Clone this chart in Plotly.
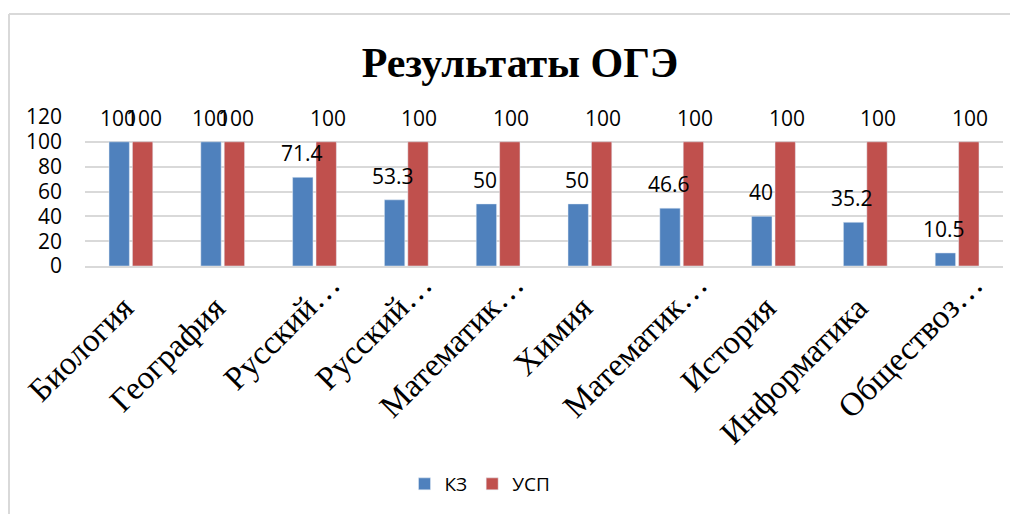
import plotly.graph_objects as go

# Data
subjects = ['Биология', 'География', 'Русский…', 'Русский…', 'Математик…',
            'Химия', 'Математик…', 'История', 'Информатика', 'Обществоз…']
kz = [100, 100, 71.4, 53.3, 50, 50, 46.6, 40, 35.2, 10.5]
usp = [100, 100, 100, 100, 100, 100, 100, 100, 100, 100]

# Duplicate labels need distinct category keys
cats = list(range(len(subjects)))
# Excel draws the untruncated names a bit lower than the "…" ones
tick_text = [s if s.endswith('…') else s + '\u00a0' * 4 for s in subjects]

W, H = 1018, 514
OFF = 8  # page body margin of the browser
ML, MT = 85 - OFF, 117 - OFF
pw, ph = 918, 149
MR, MB = W - ML - pw, H - MT - ph

fig = go.Figure()
fig.add_trace(go.Bar(x=cats, y=kz, name='КЗ', marker_color='#4F81BD'))
fig.add_trace(go.Bar(x=cats, y=usp, name='УСП', marker_color='#C0504D'))

# data labels, placed above each bar like Excel does
label_font = dict(family='Open Sans', size=21, color='#000000')
for xs, vals in ((-13, kz), (13, usp)):
    for c, v in zip(cats, vals):
        fig.add_annotation(x=c, y=v, text=f'{v:g}', showarrow=False,
                           xshift=xs, yshift=24, font=label_font)


# screen pixel -> paper coordinates
def px_x(p):
    return (p - OFF - ML) / pw


def px_y(p):
    return (H - MB - (p - OFF)) / ph


border = dict(color='#d9d9d9', width=2)
fig.add_shape(type='line', xref='paper', yref='paper',
              x0=px_x(9), x1=px_x(W + OFF), y0=px_y(14), y1=px_y(14), line=border)
fig.add_shape(type='line', xref='paper', yref='paper',
              x0=px_x(9), x1=px_x(9), y0=px_y(14), y1=px_y(H + OFF), line=border)

fig.update_layout(
    width=W, height=H,
    margin=dict(l=ML, r=MR, t=MT, b=MB, autoexpand=False),
    plot_bgcolor='white', paper_bgcolor='white',
    barmode='group', bargap=0.49, bargroupgap=0.13,
    title=dict(text='<b>Результаты ОГЭ</b>', x=512 / W, xanchor='center',
               y=1 - 54 / H, yanchor='middle',
               font=dict(family='Liberation Serif', size=42, color='#000000')),
    legend=dict(orientation='h', x=px_x(480), xanchor='center',
                y=px_y(484), yanchor='middle', itemwidth=30,
                font=dict(family='Open Sans', size=19, color='#000000')),
    xaxis=dict(tickmode='array', tickvals=cats, ticktext=tick_text,
               tickangle=-45, ticklabelstandoff=-16, ticklabelshift=16,
               automargin=False,
               tickfont=dict(family='Liberation Serif', size=33, color='#000000'),
               showline=True, linecolor='#d9d9d9', linewidth=2,
               showgrid=False, range=[-0.5, 9.5]),
    yaxis=dict(range=[0, 120], dtick=20, showgrid=True, gridcolor='#d9d9d9',
               gridwidth=2, zeroline=False, ticklabelstandoff=22, automargin=False,
               tickfont=dict(family='Open Sans', size=21, color='#000000')),
)

fig.write_html('out.html')
